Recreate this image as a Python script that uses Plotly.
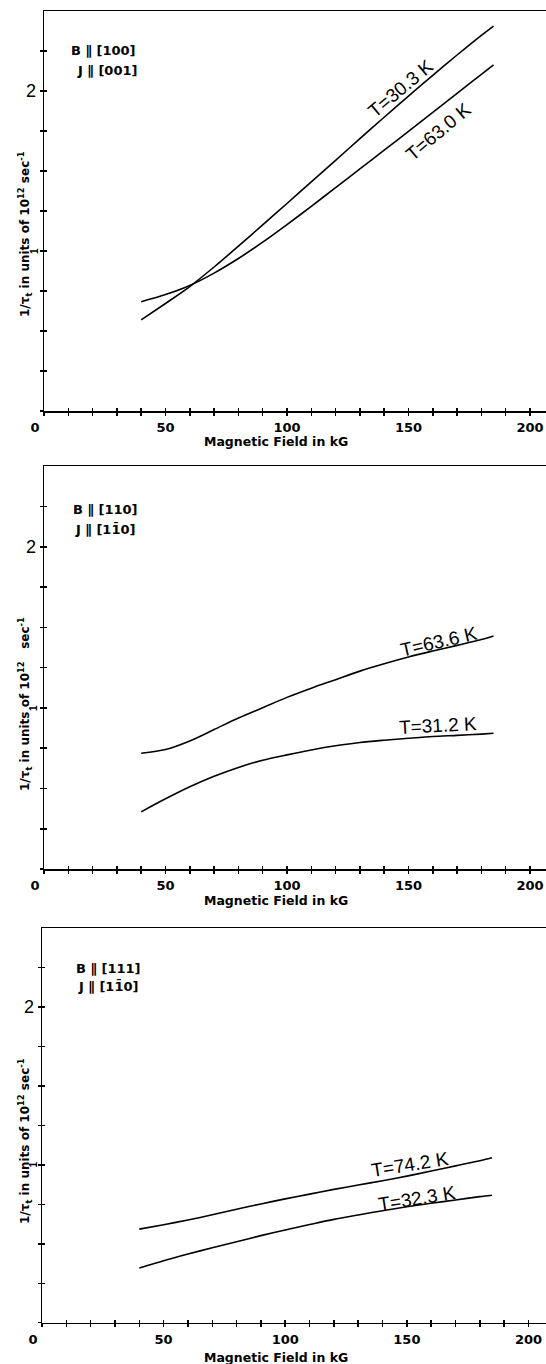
import plotly.graph_objects as go

# ---------------- data ----------------
field_kG = [40, 50, 60, 70, 80, 90, 100, 110, 120, 130, 140, 150, 160, 170, 180, 185]

# Panel 1: B || [100], J || [001]
p1_T303 = [0.569, 0.672, 0.778, 0.900, 1.030, 1.163, 1.297, 1.432, 1.567, 1.702, 1.836, 1.968, 2.098, 2.225, 2.348, 2.406]
p1_T630 = [0.683, 0.728, 0.785, 0.862, 0.953, 1.055, 1.165, 1.279, 1.396, 1.513, 1.630, 1.748, 1.866, 1.985, 2.104, 2.163]

# Panel 2: B || [110], J || [1-10]
p2_T636 = [0.719, 0.742, 0.795, 0.866, 0.938, 1.002, 1.066, 1.123, 1.176, 1.229, 1.275, 1.317, 1.354, 1.389, 1.425, 1.447]
p2_T312 = [0.355, 0.436, 0.511, 0.576, 0.631, 0.676, 0.709, 0.739, 0.765, 0.786, 0.800, 0.812, 0.823, 0.830, 0.838, 0.843]

# Panel 3: B || [111], J || [1-10]
p3_T742 = [0.593, 0.621, 0.651, 0.684, 0.719, 0.753, 0.785, 0.815, 0.845, 0.873, 0.900, 0.929, 0.961, 0.994, 1.027, 1.046]
p3_T323 = [0.347, 0.393, 0.435, 0.475, 0.513, 0.552, 0.588, 0.622, 0.655, 0.683, 0.710, 0.735, 0.757, 0.778, 0.799, 0.808]

curve_labels = [["T=30.3 K", "T=63.0 K"], ["T=63.6 K", "T=31.2 K"], ["T=74.2 K", "T=32.3 K"]]
orientation_B = ["B \u2225 [100]", "B \u2225 [110]", "B \u2225 [111]"]
orientation_J = ["J \u2225 [001]", "J \u2225 [11\u03040]", "J \u2225 [11\u03040]"]

x_tickvals = list(range(0, 201, 10))
x_ticktext = [("0\u00a0\u00a0\u00a0\u00a0" if v == 0 else str(v)) if v % 50 == 0 else "" for v in x_tickvals]
y_tickvals = [0, 0.25, 0.5, 0.75, 1.0, 1.25, 1.5, 1.75, 2.0, 2.25]
y_ticktext = ["2" if v == 2.0 else "" for v in y_tickvals]

y_title = "1/\u03c4<sub>t</sub> in units of 10<sup>12</sup> sec<sup>-1</sup>"
y_title2 = "1/\u03c4<sub>t</sub> in units of 10<sup>12</sup>\u00a0\u00a0\u00a0sec<sup>-1</sup>"
x_title = "Magnetic Field in kG"

# ---------------- layout geometry (pixels) ----------------
W, H = 546, 1364
def pxx(px):
    return px / W
def pxy(py):
    return 1 - py / H

panels = [
    dict(series=[p1_T303, p1_T630], left=44, top=11, bottom=411, ymax=2.5, xmax=206.6,
         lab=[(146.8, 2.014, -40), (162.3, 1.75, -40)],
         B=(69, 50.5), J=(75, 70.5), ytitle_py=234, dash_px=34, xtitle_py=442, ytitle=y_title),
    dict(series=[p2_T636, p2_T312], left=44, top=466, bottom=869, ymax=2.503, xmax=206.6,
         lab=[(162.7, 1.41, -13), (162.3, 0.89, -3)],
         B=(71, 509.5), J=(73, 529.5), ytitle_py=704, dash_px=34, xtitle_py=900, ytitle=y_title2),
    dict(series=[p3_T742, p3_T323], left=42, top=928.3, bottom=1322.7, ymax=2.5, xmax=207.2,
         lab=[(151.3, 1.003, -9), (154.0, 0.787, -9)],
         B=(74, 968.5), J=(76, 986.5), ytitle_py=1141, dash_px=33.5, xtitle_py=1357, ytitle=y_title),
]

fig = go.Figure()
annotations = []
layout_axes = {}

for i, p in enumerate(panels, start=1):
    xa = "x" if i == 1 else f"x{i}"
    ya = "y" if i == 1 else f"y{i}"
    xo = f"x{i + 3}"
    yo = f"y{i + 3}"
    xkey = "xaxis" if i == 1 else f"xaxis{i}"
    ykey = "yaxis" if i == 1 else f"yaxis{i}"
    xdom = [pxx(p["left"]), 1.0]
    ydom = [pxy(p["bottom"]), pxy(p["top"])]

    for s in p["series"]:
        fig.add_trace(go.Scatter(x=field_kG, y=s, xaxis=xa, yaxis=ya, mode="lines",
                                 line=dict(color="black", width=1.6, shape="spline", smoothing=0.8),
                                 showlegend=False, hoverinfo="skip"))
    # empty trace for the overlay axes (inside half of the cross ticks)
    fig.add_trace(go.Scatter(x=[None], y=[None], xaxis=xo, yaxis=yo, mode="lines",
                             showlegend=False, hoverinfo="skip"))

    layout_axes[xkey] = dict(domain=xdom, range=[0, p["xmax"]], anchor=ya, showline=True,
                             linecolor="black", linewidth=1.5, mirror=True, ticks="outside",
                             ticklen=3, tickwidth=1.5, tickcolor="black", tickvals=x_tickvals,
                             ticktext=x_ticktext, showgrid=False, zeroline=False,
                             automargin=False, ticklabelstandoff=1,
                             tickfont=dict(family="DejaVu Sans", size=13, color="black", weight="bold"))
    layout_axes[ykey] = dict(domain=ydom, range=[0, p["ymax"]], anchor=xa, showline=True,
                             linecolor="black", linewidth=1.5, ticks="outside", ticklen=3,
                             tickwidth=1.5, tickcolor="black", tickvals=y_tickvals,
                             ticktext=y_ticktext, showgrid=False, zeroline=False, automargin=False,
                             tickfont=dict(family="Liberation Sans", size=18, color="black"))
    layout_axes[f"xaxis{i + 3}"] = dict(domain=xdom, range=[0, p["xmax"]], overlaying=xa, anchor=ya,
                                        showline=False, ticks="inside", ticklen=3, tickwidth=1.5,
                                        tickcolor="black", tickvals=x_tickvals, showticklabels=False,
                                        showgrid=False, zeroline=False, automargin=False)
    layout_axes[f"yaxis{i + 3}"] = dict(domain=ydom, range=[0, p["ymax"]], overlaying=ya, anchor=xa,
                                        showline=False, ticks="inside", ticklen=3, tickwidth=1.5,
                                        tickcolor="black", tickvals=y_tickvals, showticklabels=False,
                                        showgrid=False, zeroline=False, automargin=False)

    # curve labels
    for (lx, ly, ang), txt in zip(p["lab"], curve_labels[i - 1]):
        annotations.append(dict(x=lx, y=ly, xref=xa, yref=ya, text=txt, showarrow=False,
                                textangle=ang, xanchor="center", yanchor="middle",
                                font=dict(family="Liberation Sans", size=19, color="black")))
    # orientation labels
    annotations.append(dict(x=pxx(p["B"][0]), y=pxy(p["B"][1]), xref="paper", yref="paper",
                            text=orientation_B[i - 1], showarrow=False, xanchor="left", yanchor="middle",
                            font=dict(family="DejaVu Sans", size=13, color="black", weight="bold")))
    annotations.append(dict(x=pxx(p["J"][0]), y=pxy(p["J"][1]), xref="paper", yref="paper",
                            text=orientation_J[i - 1], showarrow=False, xanchor="left", yanchor="middle",
                            font=dict(family="DejaVu Sans", size=13, color="black", weight="bold")))
    # y-axis title
    annotations.append(dict(x=pxx(25), y=pxy(p["ytitle_py"]), xref="paper", yref="paper",
                            text=p["ytitle"], showarrow=False, textangle=-90,
                            xanchor="center", yanchor="middle",
                            font=dict(family="DejaVu Sans", size=12, color="black", weight="bold")))
    # tick label "1" (printed sideways in the original)
    annotations.append(dict(x=pxx(p["dash_px"]), y=1, xref="paper", yref=ya, text="1",
                            showarrow=False, textangle=-90, xanchor="center", yanchor="middle",
                            font=dict(family="Liberation Sans", size=10, color="black", weight="bold")))
    # x-axis title
    annotations.append(dict(x=pxx(276), y=pxy(p["xtitle_py"]), xref="paper", yref="paper",
                            text=x_title, showarrow=False, xanchor="center", yanchor="middle",
                            font=dict(family="DejaVu Sans", size=12.5, color="black", weight="bold")))

fig.update_layout(
    width=W, height=H,
    margin=dict(l=0, r=0, t=0, b=0, pad=0, autoexpand=False),
    paper_bgcolor="white", plot_bgcolor="white",
    showlegend=False,
    annotations=annotations,
    **layout_axes,
)

fig.write_html("out.html", config={"displayModeBar": False, "staticPlot": True},
               post_script="document.body.style.margin='0px';document.body.style.overflow='hidden';")
